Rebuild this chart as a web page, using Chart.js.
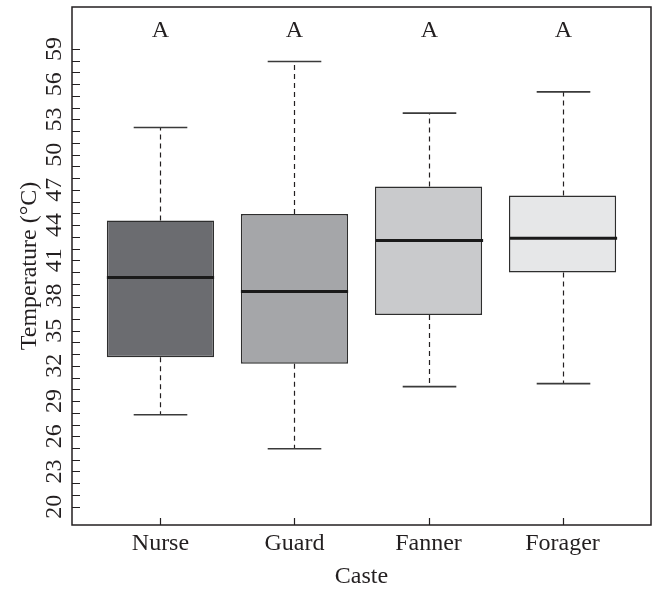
<!DOCTYPE html>
<html>
<head>
<meta charset="utf-8">
<script src="https://cdn.jsdelivr.net/npm/chart.js@4/dist/chart.umd.min.js"></script>
<style>
  html, body { margin: 0; padding: 0; background: #ffffff; }
  #wrap { width: 653px; height: 589px; }
</style>
</head>
<body>
<div id="wrap"><canvas id="chart" width="653" height="589"></canvas></div>
<script>
// Body temperature by caste: five-number summaries per group
const castes      = ['Nurse', 'Guard', 'Fanner', 'Forager'];
const whiskerLow  = [27.84, 24.94, 30.23, 30.49];
const quartile1   = [32.74, 32.17, 36.34, 39.95];
const medians     = [39.52, 38.33, 42.68, 42.88];
const quartile3   = [44.38, 44.95, 47.28, 46.51];
const whiskerHigh = [52.31, 57.94, 53.54, 55.35];
const groupLetters = ['A', 'A', 'A', 'A'];
const letterLevel = 60.6;

// Labelled y ticks (every 3 °C); unlabelled minor ticks every 1 °C between them
const yLabelTicks = [20, 23, 26, 29, 32, 35, 38, 41, 44, 47, 50, 53, 56, 59];

const boxColors = ['#6b6c70', '#a5a6a9', '#c9cacc', '#e6e7e8'];
const ink = '#231f20';
const serif = "'Liberation Serif', 'Times New Roman', serif";
const fontMain = { family: serif, size: 24 };

const minorTicks = [];
for (let v = yLabelTicks[0]; v <= yLabelTicks[yLabelTicks.length - 1]; v++) minorTicks.push(v);

// Whiskers, caps, medians, group letters, frame and inward tick marks
const boxExtras = {
  id: 'boxExtras',
  afterDatasetsDraw(chart) {
    const { ctx, scales: { x, y } } = chart;
    const unit = x.getPixelForValue(2) - x.getPixelForValue(1);
    const capHalf = unit * 0.2;
    const boxHalf = unit * 0.4;
    ctx.save();
    castes.forEach((name, i) => {
      const cx = Math.round(x.getPixelForValue(i + 1)) + 0.5;
      // dashed whiskers
      ctx.strokeStyle = ink;
      ctx.lineWidth = 1.2;
      ctx.setLineDash([5, 4]);
      ctx.beginPath();
      ctx.moveTo(cx, y.getPixelForValue(quartile3[i]));
      ctx.lineTo(cx, y.getPixelForValue(whiskerHigh[i]));
      ctx.moveTo(cx, y.getPixelForValue(quartile1[i]));
      ctx.lineTo(cx, y.getPixelForValue(whiskerLow[i]));
      ctx.stroke();
      ctx.setLineDash([]);
      // caps
      ctx.strokeStyle = '#3a3a3a';
      ctx.lineWidth = 1.6;
      ctx.beginPath();
      [whiskerHigh[i], whiskerLow[i]].forEach(v => {
        const py = y.getPixelForValue(v);
        ctx.moveTo(cx - capHalf, py);
        ctx.lineTo(cx + capHalf, py);
      });
      ctx.stroke();
      // median
      ctx.strokeStyle = '#1a1a1a';
      ctx.lineWidth = 3;
      ctx.beginPath();
      const my = y.getPixelForValue(medians[i]);
      ctx.moveTo(cx - boxHalf, my);
      ctx.lineTo(cx + boxHalf, my);
      ctx.stroke();
      // group letter
      ctx.fillStyle = ink;
      ctx.font = `${fontMain.size}px ${serif}`;
      ctx.textAlign = 'center';
      ctx.textBaseline = 'middle';
      ctx.fillText(groupLetters[i], cx, y.getPixelForValue(letterLevel));
    });
    ctx.restore();
  },
  afterDraw(chart) {
    const { ctx, chartArea: a, scales: { x, y } } = chart;
    ctx.save();
    ctx.strokeStyle = ink;
    ctx.lineWidth = 1.5;
    ctx.strokeRect(a.left, a.top, a.right - a.left, a.bottom - a.top);
    ctx.lineWidth = 1.2;
    ctx.beginPath();
    y.ticks.forEach(t => {
      const py = Math.round(y.getPixelForValue(t.value)) + 0.5;
      ctx.moveTo(a.left, py);
      ctx.lineTo(a.left + 8, py);
    });
    x.ticks.forEach(t => {
      const px = Math.round(x.getPixelForValue(t.value)) + 0.5;
      ctx.moveTo(px, a.bottom);
      ctx.lineTo(px, a.bottom - 7);
    });
    ctx.stroke();
    ctx.restore();
  }
};

new Chart(document.getElementById('chart'), {
  type: 'bar',
  data: {
    datasets: [{
      data: castes.map((c, i) => ({ x: i + 1, y: [quartile1[i], quartile3[i]] })),
      backgroundColor: boxColors,
      borderColor: '#2e2e2e',
      borderWidth: 1.5,
      borderSkipped: false,
      barPercentage: 0.8,
      categoryPercentage: 1
    }]
  },
  options: {
    responsive: false,
    animation: false,
    devicePixelRatio: 1,
    layout: { padding: { top: 7, right: 2, left: 0, bottom: 0 } },
    plugins: { legend: { display: false }, tooltip: { enabled: false } },
    scales: {
      x: {
        type: 'linear',
        min: 0.34,
        max: 4.66,
        offset: false,
        grid: { display: false, drawTicks: false, offset: false },
        border: { display: false },
        afterBuildTicks: s => { s.ticks = castes.map((c, i) => ({ value: i + 1 })); },
        ticks: {
          autoSkip: false, maxRotation: 0, padding: 4, color: ink, font: fontMain,
          callback: v => castes[v - 1]
        },
        title: {
          display: true, text: 'Caste', color: ink,
          font: { family: serif, size: 24, lineHeight: 1 },
          padding: { top: 0, bottom: 0 }
        },
        afterFit: s => { s.height = 64; s.paddingLeft = 0; s.paddingRight = 0; }
      },
      y: {
        min: 18.44,
        max: 62.58,
        beginAtZero: false,
        grid: { display: false, drawTicks: false },
        border: { display: false },
        afterBuildTicks: s => { s.ticks = minorTicks.map(v => ({ value: v })); },
        ticks: {
          autoSkip: false, minRotation: 90, maxRotation: 90, crossAlign: 'center',
          padding: 5, color: ink, font: fontMain,
          callback: v => (yLabelTicks.includes(v) ? String(v) : '')
        },
        title: {
          display: true, text: 'Temperature (°C)', color: ink,
          font: { family: serif, size: 24, lineHeight: 1 },
          padding: { top: 18, bottom: 0 }
        },
        afterFit: s => { s.width = 72; s.paddingTop = 0; s.paddingBottom = 0; }
      }
    }
  },
  plugins: [boxExtras]
});
</script>
</body>
</html>
